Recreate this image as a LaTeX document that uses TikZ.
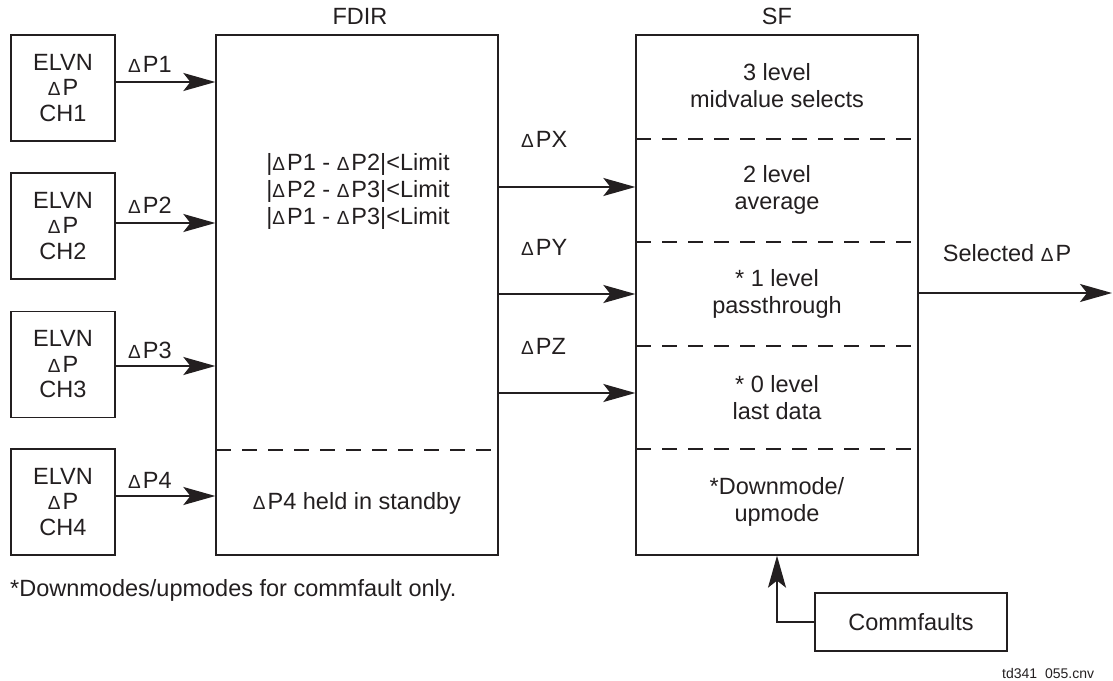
\documentclass[tikz,border=0pt]{standalone}
\usepackage{fontspec}
\setmainfont{Liberation Sans}
\usetikzlibrary{arrows.meta}
\definecolor{ink}{HTML}{231F20}
\newcommand\dd{{\fontsize{19pt}{19pt}\selectfont Δ}\kern2pt}
\tikzset{
  txt/.style={font=\fontsize{23.5pt}{27pt}\selectfont, text=ink, inner sep=0pt, align=center},
  chbox/.style={draw=ink, line width=1.3pt, minimum width=104pt, minimum height=106pt, txt, font=\fontsize{23.5pt}{25.5pt}\selectfont},
  bigbox/.style={draw=ink, line width=1.3pt, minimum width=282pt, minimum height=520pt, inner sep=0pt},
  arr/.style={draw=ink, line width=1.8pt, -{Stealth[length=32pt, width=18pt, inset=7pt]}},
  dsh/.style={draw=ink, line width=1.1pt, dash pattern=on 15pt off 11pt},
}
\begin{document}
\begin{tikzpicture}[x=1pt, y=-1pt]
\useasboundingbox (0,0) rectangle (1113,680);
% channel boxes
\node[chbox] (c1) at (63,88) {ELVN\\\dd P\\CH1};
\node[chbox] (c2) at (63,226) {ELVN\\\dd P\\CH2};
\node[chbox] (c3) at (63,364.5) {ELVN\\\dd P\\CH3};
\node[chbox] (c4) at (63,502) {ELVN\\\dd P\\CH4};
% FDIR and SF boxes
\node[bigbox] (fdir) at (357,295) {};
\node[bigbox] (sf) at (777,295) {};
\node[txt] (tfdir) at (360,16) {FDIR};
\node[txt] (tsf) at (777,16) {SF};
% dashed separators
\draw[dsh] (216,450) -- (498,450);
\draw[dsh] (636,139) -- (918,139);
\draw[dsh] (636,242) -- (918,242);
\draw[dsh] (636,346) -- (918,346);
\draw[dsh] (636,449) -- (918,449);
% FDIR texts
\node[txt] (lim) at (358,191) {|\dd P1 - \dd P2|<Limit\\|\dd P2 - \dd P3|<Limit\\|\dd P1 - \dd P3|<Limit};
\node[txt] (stby) at (357,503) {\dd P4 held in standby};
% SF texts
\node[txt] (s3) at (777,85.5) {3 level\\midvalue selects};
\node[txt] (s2) at (777,189.5) {2 level\\average};
\node[txt] (s1) at (777,293.5) {* 1 level\\passthrough};
\node[txt] (s0) at (777,397.5) {* 0 level\\last data};
\node[txt] (sd) at (777,501.5) {*Downmode/\\upmode};
% channel arrows
\coordinate (a1) at (115,82);
\coordinate (a2) at (115,223);
\coordinate (a3) at (115,366);
\coordinate (a4) at (115,496);
\draw[arr] (a1) -- (a1 -| fdir.west);
\draw[arr] (a2) -- (a2 -| fdir.west);
\draw[arr] (a3) -- (a3 -| fdir.west);
\draw[arr] (a4) -- (a4 -| fdir.west);
\node[txt, anchor=west] (l1) at (128,64) {\dd P1};
\node[txt, anchor=west] (l2) at (128,205) {\dd P2};
\node[txt, anchor=west] (l3) at (128,350) {\dd P3};
\node[txt, anchor=west] (l4) at (128,480) {\dd P4};
% FDIR -> SF arrows
\coordinate (bx) at (498,187);
\coordinate (by) at (498,294);
\coordinate (bz) at (498,393);
\draw[arr] (bx) -- (bx -| sf.west);
\draw[arr] (by) -- (by -| sf.west);
\draw[arr] (bz) -- (bz -| sf.west);
\node[txt, anchor=west] (lx) at (521,139) {\dd PX};
\node[txt, anchor=west] (ly) at (521,247) {\dd PY};
\node[txt, anchor=west] (lz) at (521,346) {\dd PZ};
% output
\coordinate (o1) at (918,293);
\coordinate (o2) at (1112,293);
\draw[arr] (o1) -- (o2);
\node[txt] (lsel) at (1007,253) {Selected \dd P};
% commfaults
\node[draw=ink, line width=1.3pt, minimum width=192pt, minimum height=58pt, txt] (cf) at (911,622) {Commfaults};
\draw[arr] (cf.west) -| (sf.south);
% footnotes
\node[txt, anchor=base west] (fn) at (10,596) {*Downmodes/upmodes for commfault only.};
\node[txt, anchor=west, font=\fontsize{14pt}{14pt}\selectfont] (td) at (1002,673) {td341\ \ 055.cnv};
\end{tikzpicture}
\end{document}
